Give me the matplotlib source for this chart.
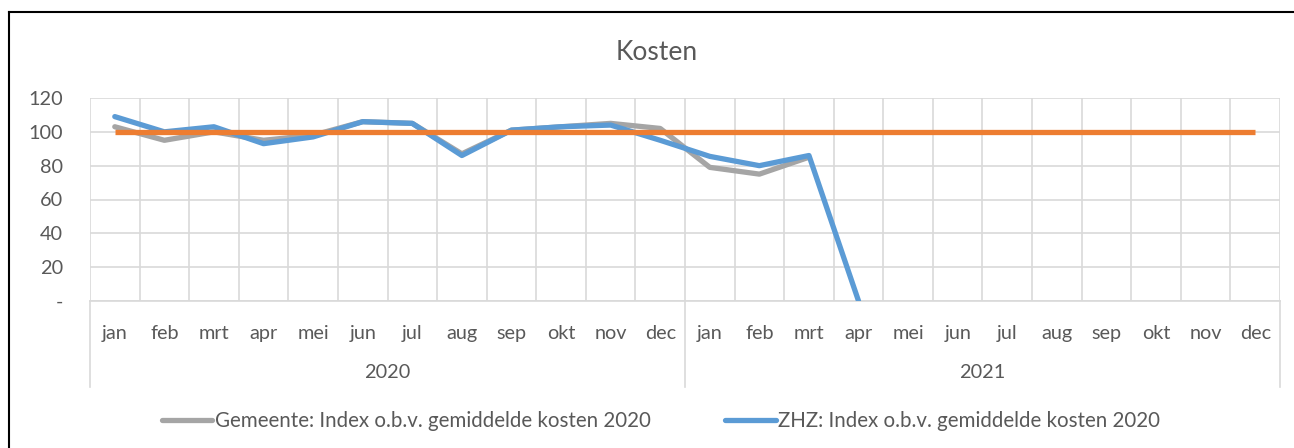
import numpy as np
import matplotlib
matplotlib.use("Agg")
import matplotlib.pyplot as plt
from matplotlib.lines import Line2D

# data
months = ["jan", "feb", "mrt", "apr", "mei", "jun", "jul", "aug", "sep", "okt", "nov", "dec"]
years = ["2020", "2021"]
gemeente = [103, 95, 100, 95, 98, 106, 105, 87, 101, 103, 105, 102, 79, 75, 85]
zhz = [109, 100, 103, 93, 97, 106, 105, 86, 101, 103, 104, 95, 85.5, 80, 86, 0]
norm = [100] * 24

W, H = 1294, 448
TXT = "#595959"
GRID = "#d9d9d9"
FS = 14.3
plt.rcParams['font.family'] = ['Lato', 'DejaVu Sans']

fig = plt.figure(figsize=(W / 100, H / 100), dpi=100)
left, right, top, bottom = 90, 1280, 98, 301
ax = fig.add_axes([left / W, 1 - bottom / H, (right - left) / W, (bottom - top) / H])

n = len(months) * len(years)
ax.plot(range(len(gemeente)), gemeente, color="#a5a5a5", lw=3.8, solid_capstyle="round", zorder=3)
ax.plot(range(len(zhz)), zhz, color="#5b9bd5", lw=3.8, solid_capstyle="round", zorder=4)
ax.plot(range(n), norm, color="#ed7d31", lw=3.8, solid_capstyle="butt", zorder=5)

ax.set_xlim(-0.5, n - 0.5)
ax.set_ylim(0, 120)
ax.set_yticks(range(0, 121, 20))
ax.set_yticklabels(["-"] + [str(v) for v in range(20, 121, 20)])
ax.set_xticks(range(n))
ax.set_xticklabels(months * len(years))
ax.set_xticks(np.arange(-0.5, n, 1), minor=True)
ax.tick_params(axis="both", which="both", length=0, colors=TXT, labelsize=FS)
ax.tick_params(axis="x", pad=17)
ax.tick_params(axis="y", pad=19.5)
ax.grid(True, which="minor", axis="x", color=GRID, lw=1.2)
ax.grid(True, which="major", axis="y", color=GRID, lw=1.2)
for s in ["top", "right", "left"]:
    ax.spines[s].set_visible(False)
ax.spines["bottom"].set_color(GRID)
ax.spines["bottom"].set_linewidth(1.2)
ax.set_axisbelow(True)

# year level of the category axis
trans = ax.get_xaxis_transform()
sep_y = -(387 - bottom) / (bottom - top)
for k in range(len(years) + 1):
    x = k * len(months) - 0.5
    ax.plot([x, x], [0, sep_y], transform=trans, color=GRID, lw=1.2, clip_on=False)
for k, yr in enumerate(years):
    ax.text(k * len(months) + (len(months) - 1) / 2, -(372 - bottom) / (bottom - top), yr,
            transform=trans, ha="center", va="center", color=TXT, fontsize=FS)

fig.text(657 / W, 1 - 53 / H, "Kosten", ha="center", va="center", color=TXT, fontsize=19)

handles = [Line2D([], [], color="#a5a5a5", lw=3.8, solid_capstyle="round"),
           Line2D([], [], color="#5b9bd5", lw=3.8, solid_capstyle="round")]
labels = ["Gemeente: Index o.b.v. gemiddelde kosten 2020", "ZHZ: Index o.b.v. gemiddelde kosten 2020"]
leg = fig.legend(handles, labels, loc="center", bbox_to_anchor=(661 / W, 1 - 421 / H), ncol=2,
                 frameon=False, fontsize=14.8, handlelength=2.45, handletextpad=0.1,
                 columnspacing=3.65, labelcolor=TXT)

# chart border (only left and top fall inside the picture)
fig.add_artist(Line2D([8.5 / W, 8.5 / W], [0, 1 - 12.5 / H], color="black", lw=1.5))
fig.add_artist(Line2D([8.5 / W, 1], [1 - 12.5 / H, 1 - 12.5 / H], color="black", lw=1.5))

fig.savefig("out.png", dpi=100)
